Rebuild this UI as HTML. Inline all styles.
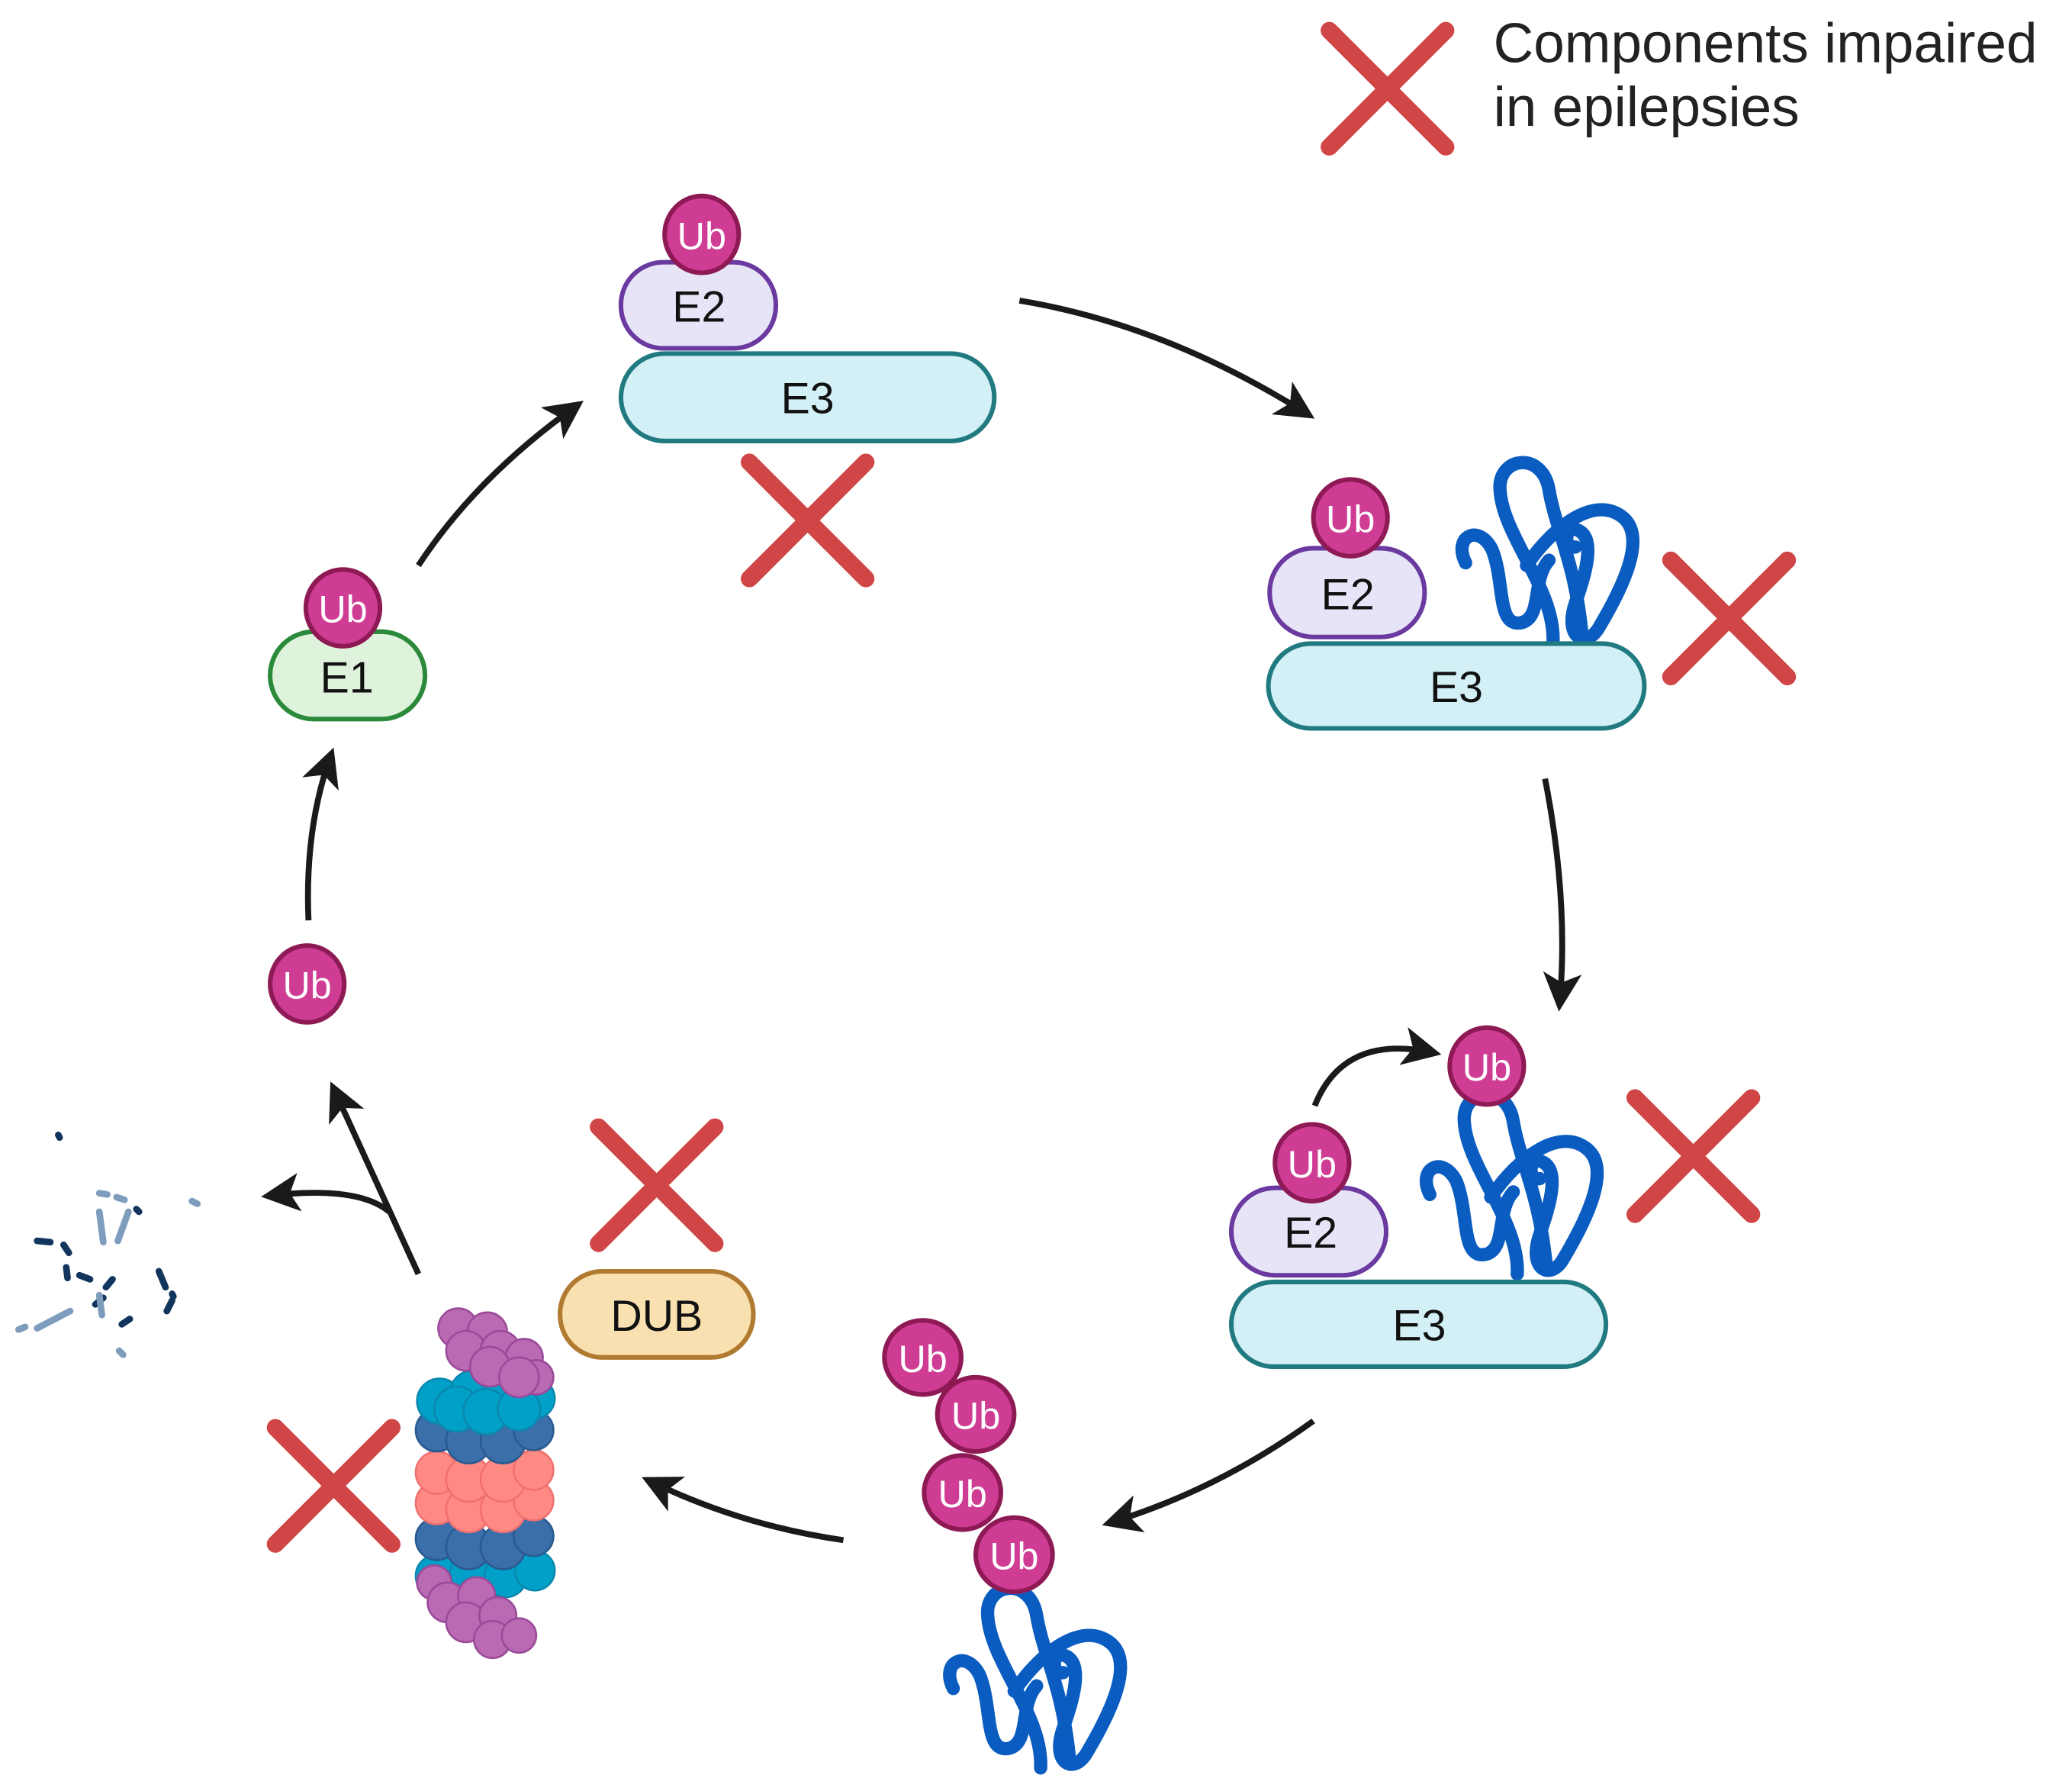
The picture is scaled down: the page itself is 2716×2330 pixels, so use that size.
<!DOCTYPE html>
<html><head><meta charset="utf-8"><style>html,body{margin:0;padding:0;background:#fff}svg{display:block}</style></head>
<body>
<svg width="2716" height="2330" viewBox="0 0 1565 1342.6" xmlns="http://www.w3.org/2000/svg" font-family="Liberation Sans, sans-serif">
<defs>
<marker id="ah" viewBox="0 0 10 10" refX="8" refY="5" markerWidth="6.5" markerHeight="6.5" orient="auto" markerUnits="strokeWidth"><path d="M0,0 L10,5 L0,10 L2.5,5 z" fill="#1a1a1a"/></marker>
<g id="prot" fill="none" stroke="#0a5cc0" stroke-width="10" stroke-linecap="round">
<path d="M78,140 C80,100 40,60 38,25 C36,0 70,-5 75,25 C80,55 95,80 100,135"/>
<path d="M12,80 C2,60 22,50 32,70 C42,95 35,130 55,125 C70,120 62,92 75,78"/>
<path d="M58,82 C80,50 110,30 130,45 C150,60 130,100 112,130 C102,145 86,136 95,110 C104,85 110,60 96,55 C86,52 86,70 95,68"/>
</g>
<g id="x"><path d="M-44,-44 L44,44 M44,-44 L-44,44" stroke="#d04545" stroke-width="13" stroke-linecap="round"/></g>
</defs>

<use href="#x" x="1048" y="67"/>
<text x="1128" y="47" font-size="42" fill="#222">Components impaired</text>
<text x="1128" y="95" font-size="42" fill="#222">in epilepsies</text>

<g stroke-width="4.5" fill="none" stroke="#1a1a1a">
<path d="M770,227 Q880,245 988,313" marker-end="url(#ah)"/>
<path d="M1167,588 Q1185,680 1178,758" marker-end="url(#ah)"/>
<path d="M993,835 Q1015,780 1083,795" marker-end="url(#ah)"/>
<path d="M992,1073 Q920,1125 838,1150" marker-end="url(#ah)"/>
<path d="M637,1163 Q560,1152 490,1118" marker-end="url(#ah)"/>
<path d="M316,962 L252,822" marker-end="url(#ah)"/>
<path d="M294,915 Q270,895 203,903" marker-end="url(#ah)"/>
<path d="M233,695 Q230,625 250,570" marker-end="url(#ah)"/>
<path d="M316,427 Q360,360 436,306" marker-end="url(#ah)"/>
</g>

<g font-size="33" text-anchor="middle">
<rect x="469" y="198" width="117" height="65" rx="32" fill="#e6e4f6" stroke="#6a3aa0" stroke-width="3.5"/>
<text x="528" y="243" fill="#111">E2</text>
<ellipse cx="530" cy="177" rx="28" ry="29" fill="#cf3c93" stroke="#8e1a55" stroke-width="3.5"/>
<text x="530" y="188" fill="#fff" font-size="29">Ub</text>
<rect x="469" y="267" width="282" height="66" rx="33" fill="#d2f0f6" stroke="#207a80" stroke-width="3.5"/>
<text x="610" y="312" fill="#111">E3</text>
<use href="#x" x="610" y="393"/>

<use href="#prot" transform="translate(1095,345)"/>
<rect x="959" y="414" width="117" height="67" rx="33" fill="#e6e4f6" stroke="#6a3aa0" stroke-width="3.5"/>
<text x="1018" y="460" fill="#111">E2</text>
<ellipse cx="1020" cy="391" rx="28" ry="29" fill="#cf3c93" stroke="#8e1a55" stroke-width="3.5"/>
<text x="1020" y="402" fill="#fff" font-size="29">Ub</text>
<rect x="958" y="486" width="284" height="64" rx="32" fill="#d2f0f6" stroke="#207a80" stroke-width="3.5"/>
<text x="1100" y="530" fill="#111">E3</text>
<use href="#x" x="1306" y="467"/>

<use href="#prot" transform="translate(1068,822)"/>
<ellipse cx="1123" cy="805" rx="28" ry="29" fill="#cf3c93" stroke="#8e1a55" stroke-width="3.5"/>
<text x="1123" y="816" fill="#fff" font-size="29">Ub</text>
<rect x="930" y="897" width="117" height="66" rx="33" fill="#e6e4f6" stroke="#6a3aa0" stroke-width="3.5"/>
<text x="990" y="942" fill="#111">E2</text>
<ellipse cx="991" cy="878" rx="28" ry="29" fill="#cf3c93" stroke="#8e1a55" stroke-width="3.5"/>
<text x="991" y="889" fill="#fff" font-size="29">Ub</text>
<rect x="930" y="968" width="283" height="64" rx="32" fill="#d2f0f6" stroke="#207a80" stroke-width="3.5"/>
<text x="1072" y="1012" fill="#111">E3</text>
<use href="#x" x="1279" y="873"/>

<use href="#prot" transform="translate(708,1195)"/>
<ellipse cx="697" cy="1025" rx="29" ry="28" fill="#cf3c93" stroke="#8e1a55" stroke-width="3.5"/>
<text x="697" y="1036" fill="#fff" font-size="29">Ub</text>
<ellipse cx="737" cy="1068" rx="29" ry="28" fill="#cf3c93" stroke="#8e1a55" stroke-width="3.5"/>
<text x="737" y="1079" fill="#fff" font-size="29">Ub</text>
<ellipse cx="727" cy="1127" rx="29" ry="28" fill="#cf3c93" stroke="#8e1a55" stroke-width="3.5"/>
<text x="727" y="1138" fill="#fff" font-size="29">Ub</text>
<ellipse cx="766" cy="1174" rx="29" ry="28" fill="#cf3c93" stroke="#8e1a55" stroke-width="3.5"/>
<text x="766" y="1185" fill="#fff" font-size="29">Ub</text>

<use href="#x" x="496" y="895"/>
<rect x="423" y="960" width="146" height="65" rx="32" fill="#f8e0b0" stroke="#b07a30" stroke-width="3.5"/>
<text x="496" y="1005" fill="#111">DUB</text>

<rect x="204" y="477" width="117" height="66" rx="33" fill="#dff2dc" stroke="#2a8a3a" stroke-width="3.5"/>
<text x="262" y="523" fill="#111">E1</text>
<ellipse cx="259" cy="459" rx="28" ry="29" fill="#cf3c93" stroke="#8e1a55" stroke-width="3.5"/>
<text x="259" y="470" fill="#fff" font-size="29">Ub</text>

<ellipse cx="232" cy="743" rx="28" ry="29" fill="#cf3c93" stroke="#8e1a55" stroke-width="3.5"/>
<text x="232" y="754" fill="#fff" font-size="29">Ub</text>
</g>

<use href="#x" x="252" y="1122"/>
<g stroke-width="1.5">
<g fill="#01a0c8" stroke="#0a88ad">
<circle cx="330" cy="1190" r="16"/><circle cx="356" cy="1188" r="16"/><circle cx="382" cy="1190" r="16"/><circle cx="404" cy="1186" r="15"/>
</g>
<g fill="#3a6faa" stroke="#2a5a90">
<circle cx="330" cy="1162" r="16"/><circle cx="354" cy="1168" r="17"/><circle cx="380" cy="1168" r="17"/><circle cx="403" cy="1160" r="15"/>
</g>
<g fill="#ff8a84" stroke="#f07070">
<circle cx="330" cy="1135" r="16"/><circle cx="354" cy="1140" r="17"/><circle cx="380" cy="1140" r="17"/><circle cx="403" cy="1133" r="15"/>
<circle cx="330" cy="1112" r="16"/><circle cx="354" cy="1117" r="17"/><circle cx="380" cy="1117" r="17"/><circle cx="403" cy="1110" r="15"/>
</g>
<g fill="#3a6faa" stroke="#2a5a90">
<circle cx="330" cy="1080" r="16"/><circle cx="354" cy="1088" r="17"/><circle cx="380" cy="1088" r="17"/><circle cx="403" cy="1080" r="15"/>
</g>
<g fill="#01a0c8" stroke="#0a88ad">
<circle cx="332" cy="1058" r="17"/><circle cx="357" cy="1052" r="17"/><circle cx="382" cy="1048" r="16"/><circle cx="404" cy="1056" r="15"/>
<circle cx="345" cy="1064" r="17"/><circle cx="367" cy="1066" r="17"/><circle cx="392" cy="1064" r="16"/>
</g>
<g fill="#b96ab2" stroke="#9a4a98">
<circle cx="346" cy="1003" r="15"/><circle cx="368" cy="1006" r="15"/><circle cx="352" cy="1020" r="15"/><circle cx="378" cy="1020" r="15"/><circle cx="396" cy="1025" r="14"/><circle cx="405" cy="1040" r="13"/><circle cx="370" cy="1032" r="15"/><circle cx="392" cy="1040" r="15"/>
<circle cx="328" cy="1195" r="13"/><circle cx="338" cy="1210" r="15"/><circle cx="360" cy="1205" r="14"/><circle cx="352" cy="1225" r="15"/><circle cx="376" cy="1220" r="14"/><circle cx="372" cy="1238" r="14"/><circle cx="392" cy="1235" r="13"/>
</g>
</g>

<g stroke-linecap="round" fill="none">
<g stroke="#12355e" stroke-width="5">
<path d="M44,857 l1,2"/><path d="M28,937 l10,1"/><path d="M48,940 l4,6"/><path d="M50,957 l1,8"/><path d="M60,963 l8,3"/><path d="M72,985 l6,-5"/><path d="M80,972 l5,-6"/><path d="M120,960 l5,12"/><path d="M126,990 l4,-8"/><path d="M92,1000 l6,-4"/><path d="M103,913 l2,2"/><path d="M130,977 l1,2"/>
</g>
<g stroke="#7e9cbc" stroke-width="5">
<path d="M75,915 l3,23"/><path d="M97,915 l-8,22"/><path d="M28,1003 l25,-13"/><path d="M75,978 l2,15"/><path d="M14,1004 l5,-2"/><path d="M75,901 l6,1"/><path d="M88,904 l6,2"/><path d="M145,907 l4,2"/><path d="M90,1020 l3,3"/>
</g>
</g>
</svg>
</body></html>
